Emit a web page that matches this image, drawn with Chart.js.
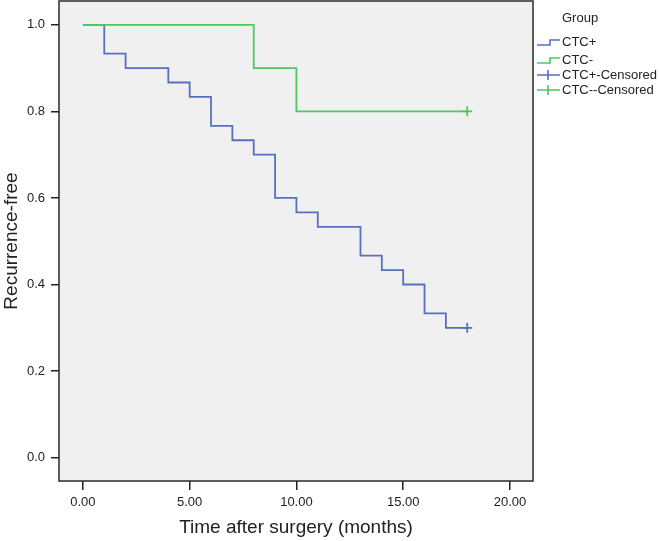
<!DOCTYPE html>
<html>
<head>
<meta charset="utf-8">
<script src="https://cdn.jsdelivr.net/npm/chart.js@4.4.1/dist/chart.umd.min.js"></script>
<style>
  html, body { margin: 0; padding: 0; background: #fff; }
  #wrap { position: relative; width: 660px; height: 541px; font-family: "Liberation Sans", Arial, sans-serif; }
  #chart { position: absolute; left: 0; top: 0; }
  .leg { position: absolute; font-size: 13px; color: #222; line-height: 14px; white-space: nowrap; }
  .leg svg { position: absolute; left: -26px; top: -4px; }
</style>
</head>
<body>
<div id="wrap">
  <canvas id="chart" width="660" height="541"></canvas>
  <div class="leg" style="left:562px; top:11px;">Group</div>
  <div class="leg" style="left:562px; top:35px;">
    <svg width="26" height="20"><polyline points="1,14 14,14 14,9 24,9" fill="none" stroke="#5670c4" stroke-width="1.6"/></svg>CTC+</div>
  <div class="leg" style="left:562px; top:53px;">
    <svg width="26" height="20"><polyline points="1,14 14,14 14,9 24,9" fill="none" stroke="#4cc95c" stroke-width="1.6"/></svg>CTC-</div>
  <div class="leg" style="left:562px; top:68px;">
    <svg width="26" height="20"><path d="M1,11 H24 M12,6 V16" fill="none" stroke="#5670c4" stroke-width="1.6"/></svg>CTC+-Censored</div>
  <div class="leg" style="left:562px; top:83px;">
    <svg width="26" height="20"><path d="M1,11 H24 M12,6 V16" fill="none" stroke="#4cc95c" stroke-width="1.6"/></svg>CTC--Censored</div>
</div>
<script>
// Kaplan-Meier steps
const posTimes = [0, 1, 2, 4, 5, 6, 7, 8, 9, 10, 11, 13, 14, 15, 16, 17, 18];
const posSurv  = [1, 0.9333, 0.9, 0.8667, 0.8333, 0.7667, 0.7333, 0.7, 0.6, 0.5667, 0.5333, 0.4667, 0.4333, 0.4, 0.3333, 0.3, 0.3];
const negTimes = [0, 8, 10, 18];
const negSurv  = [1, 0.9, 0.8, 0.8];
const censorPos = [[18, 0.3]];
const censorNeg = [[18, 0.8]];
const xTicks = [0, 5, 10, 15, 20];
const yTicks = [0, 0.2, 0.4, 0.6, 0.8, 1.0];

const BLUE = '#5670c4';
const GREEN = '#4cc95c';
const INK = '#222';

const toXY = (xs, ys) => xs.map((x, i) => ({ x, y: ys[i] }));

// fond gris + cadre complet de la zone du graphique
const frame = {
  id: 'frame',
  beforeDraw(chart) {
    const { ctx, chartArea: a } = chart;
    ctx.save();
    ctx.fillStyle = '#f0f0f0';
    ctx.fillRect(a.left, a.top, a.right - a.left, a.bottom - a.top);
    ctx.restore();
  },
  afterDraw(chart) {
    const { ctx, chartArea: a } = chart;
    ctx.save();
    ctx.strokeStyle = '#2a2a2a';
    ctx.lineWidth = 1.5;
    ctx.strokeRect(a.left, a.top, a.right - a.left, a.bottom - a.top);
    ctx.restore();
  }
};

const tickFont = { family: '"Liberation Sans", Arial, sans-serif', size: 13 };
const titleFont = { family: '"Liberation Sans", Arial, sans-serif', size: 19 };

new Chart(document.getElementById('chart'), {
  type: 'line',
  data: {
    datasets: [
      { label: 'CTC-', data: toXY(negTimes, negSurv), borderColor: GREEN, borderWidth: 1.8,
        stepped: 'before', pointRadius: 0, fill: false, order: 1 },
      { label: 'CTC+', data: toXY(posTimes, posSurv), borderColor: BLUE, borderWidth: 1.8,
        stepped: 'before', pointRadius: 0, fill: false, order: 2 },
      { label: 'CTC--Censored', type: 'scatter', data: censorNeg.map(([x, y]) => ({ x, y })),
        pointStyle: 'cross', pointRadius: 5, borderColor: GREEN, pointBorderWidth: 1.8, order: 0 },
      { label: 'CTC+-Censored', type: 'scatter', data: censorPos.map(([x, y]) => ({ x, y })),
        pointStyle: 'cross', pointRadius: 5, borderColor: BLUE, pointBorderWidth: 1.8, order: 0 }
    ]
  },
  options: {
    responsive: false,
    animation: false,
    layout: { autoPadding: false, padding: { left: 0, top: 1, right: 127, bottom: 0 } },
    plugins: { legend: { display: false }, tooltip: { enabled: false } },
    scales: {
      x: {
        type: 'linear', min: -1.12, max: 21.08,
        afterBuildTicks: s => { s.ticks = xTicks.map(v => ({ value: v })); },
        afterFit: s => { s.height = 60; s.paddingLeft = 0; s.paddingRight = 0; },
        grid: { drawOnChartArea: false, tickLength: 9, color: INK, lineWidth: 1.5 },
        border: { display: false },
        ticks: { color: INK, font: tickFont, padding: 5, maxRotation: 0,
                 callback: v => Number(v).toFixed(2) },
        title: { display: true, text: 'Time after surgery (months)', color: INK, font: titleFont,
                 padding: { top: 0, bottom: 2 } }
      },
      y: {
        type: 'linear', min: -0.054, max: 1.055,
        afterBuildTicks: s => { s.ticks = yTicks.map(v => ({ value: v })); },
        afterFit: s => { s.width = 59; s.paddingTop = 0; s.paddingBottom = 0; },
        grid: { drawOnChartArea: false, tickLength: 8, color: INK, lineWidth: 1.5 },
        border: { display: false },
        ticks: { color: INK, font: tickFont, padding: 6,
                 callback: v => Number(v).toFixed(1) },
        title: { display: true, text: 'Recurrence-free', color: INK, font: titleFont,
                 padding: { top: 0, bottom: 0 } }
      }
    }
  },
  plugins: [frame]
});
</script>
</body>
</html>
